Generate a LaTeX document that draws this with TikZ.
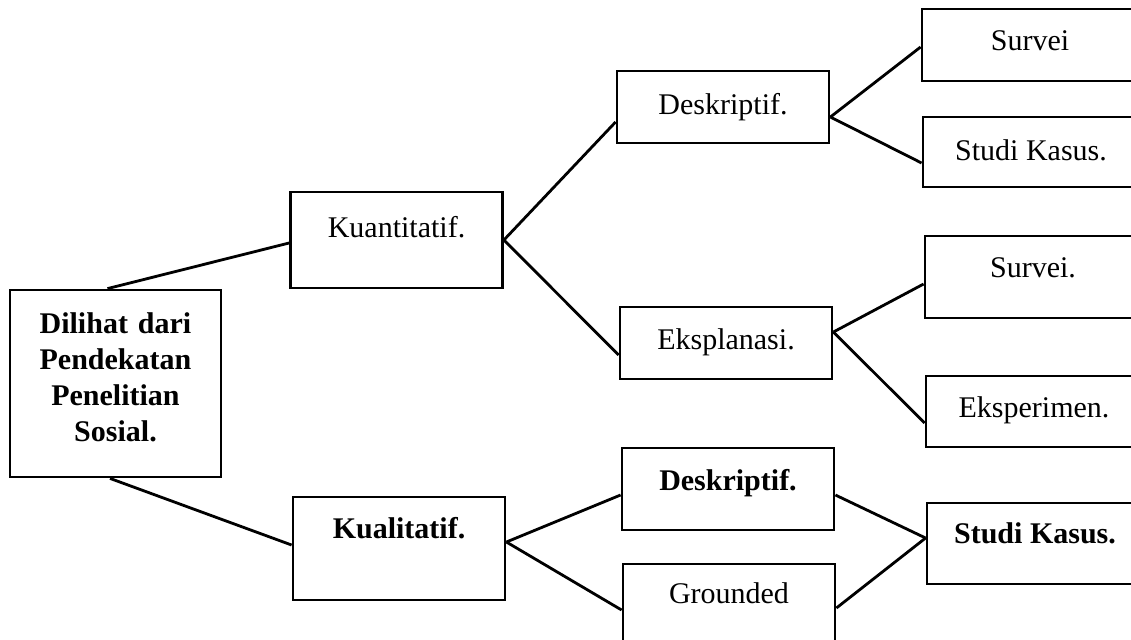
\documentclass[tikz,border=0pt]{standalone}
\usepackage{fontspec}
\setmainfont{Liberation Serif}

\begin{document}
\begin{tikzpicture}[x=0.5pt, y=-0.5pt,
    every node/.style={font=\fontsize{15}{18}\selectfont},
    box/.style={draw, line width=1.4pt, inner sep=0pt, align=center,
                minimum width=106pt, text height=11pt},
    leaf/.style={box, minimum width=108pt},
    link/.style={line width=1.4pt}]
      \useasboundingbox (0,0) rectangle (1131,639);
      \clip (0,0) rectangle (1131,639);
      % Main box
      \node[box, font=\fontsize{15}{18}\selectfont\bfseries, text width=100pt,
            minimum width=105.5pt, minimum height=93.5pt,
            text depth=61.5pt] (dilihat) at (115.5,383.5) {Dilihat dari\\Pendekatan\\Penelitian\\Sosial.};
      % Second level
      \node[box, minimum height=48pt, text depth=14pt] (kuan) at (396.5,240) {Kuantitatif.};
      \node[box, font=\fontsize{15}{18}\selectfont\bfseries,
            minimum height=51.5pt, text depth=21.5pt] (kual) at (399,548.5) {Kualitatif.};
      \draw[link] ([xshift=-4pt]dilihat.north) -- ([yshift=-1.5pt]kuan.west);
      \draw[link] ([xshift=-2.75pt]dilihat.south) -- ([yshift=1.75pt]kual.west);
      % Quantitative branch
      \node[box, minimum height=36pt, text depth=4pt] (d1) at (723,107) {Deskriptif.};
      \node[box, minimum height=36pt, text depth=5pt] (eks) at (726,343) {Eksplanasi.};
      \draw[link] (kuan.east) -- ([yshift=-7.5pt]d1.west);
      \draw[link] (kuan.east) -- ([yshift=-6pt]eks.west);
      \node[leaf, minimum height=36pt, text depth=6pt] (s1) at (1030,45) {Survei};
      \node[leaf, minimum height=35pt, text depth=3pt] (sk1) at (1031,152) {Studi Kasus.};
      \draw[link] ([yshift=-5pt]d1.east) -- ([yshift=-1pt]s1.west);
      \draw[link] ([yshift=-5pt]d1.east) -- ([yshift=-5.5pt]sk1.west);
      \node[leaf, minimum height=41pt, text depth=11pt] (s2) at (1033,277) {Survei.};
      \node[leaf, minimum height=35.5pt, text depth=5.5pt] (exp) at (1034,411.5) {Eksperimen.};
      \draw[link] ([yshift=5.5pt]eks.east) -- ([yshift=-3.5pt]s2.west);
      \draw[link] ([yshift=5.5pt]eks.east) -- ([yshift=-5.75pt]exp.west);
      % Qualitative branch
      \node[box, font=\fontsize{15}{18}\selectfont\bfseries,
            minimum height=41pt, text depth=10pt] (d2) at (728,489) {Deskriptif.};
      \node[box, minimum height=41pt, text depth=13pt] (gr) at (729,605) {Grounded};
      \draw[link] ([yshift=3.25pt]kual.east) -- ([yshift=-3pt]d2.west);
      \draw[link] ([yshift=3.25pt]kual.east) -- ([yshift=-2.5pt]gr.west);
      \node[leaf, font=\fontsize{15}{18}\selectfont\bfseries,
            minimum height=40.5pt, text depth=11.5pt] (sk2) at (1035,543.5) {Studi Kasus.};
      \draw[link] ([yshift=-3pt]d2.east) -- ([yshift=2.75pt]sk2.west);
      \draw[link] ([yshift=-1.5pt]gr.east) -- ([yshift=2.75pt]sk2.west);
\end{tikzpicture}
\end{document}
